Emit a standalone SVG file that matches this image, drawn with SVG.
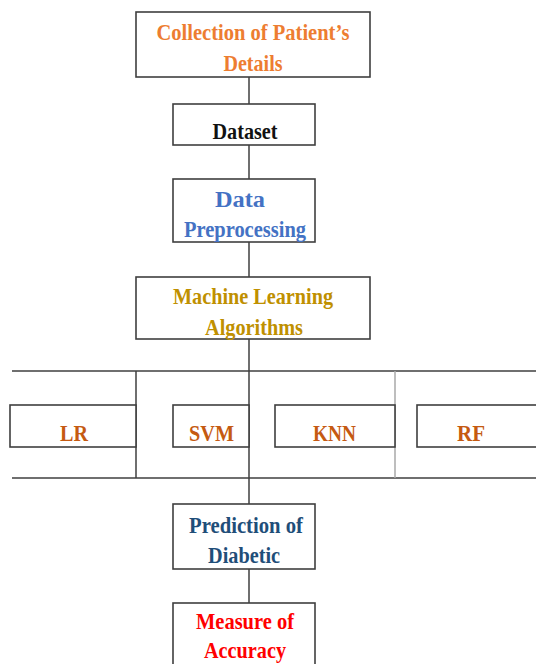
<svg xmlns="http://www.w3.org/2000/svg" width="536" height="664" viewBox="0 0 536 664">
  <style>
    .box { fill: #ffffff; stroke: #3f3f3f; stroke-width: 1.6; }
    .wire { stroke: #3f3f3f; stroke-width: 1.5; fill: none; }
    .wire-light { stroke: #a8a8a8; stroke-width: 1.5; fill: none; }
    text { font-family: "Liberation Serif", "Times New Roman", serif; font-weight: bold; font-size: 24px; text-anchor: middle; }
  </style>
  <rect width="536" height="664" fill="#ffffff"/>

  <!-- connectors -->
  <g id="connectors">
    <line class="wire" x1="249" y1="77" x2="249" y2="104"/>
    <line class="wire" x1="249" y1="145" x2="249" y2="179"/>
    <line class="wire" x1="249" y1="242" x2="249" y2="277"/>
    <line class="wire" x1="249" y1="339" x2="249" y2="504"/>
    <line class="wire" x1="249" y1="569" x2="249" y2="603"/>
    <line class="wire" x1="12" y1="371" x2="536" y2="371"/>
    <line class="wire" x1="12" y1="478" x2="536" y2="478"/>
    <line class="wire" x1="136" y1="371" x2="136" y2="478"/>
    <line class="wire-light" x1="395" y1="371" x2="395" y2="478"/>
  </g>

  <g id="collection">
    <rect class="box" x="136" y="12" width="234" height="65"/>
    <text x="253" y="40" fill="#ED7D31" textLength="193" lengthAdjust="spacingAndGlyphs">Collection of Patient’s</text>
    <text x="253" y="71" fill="#ED7D31" textLength="59" lengthAdjust="spacingAndGlyphs">Details</text>
  </g>

  <g id="dataset">
    <rect class="box" x="173" y="104" width="142" height="41"/>
    <text x="245" y="139" fill="#111111" textLength="65" lengthAdjust="spacingAndGlyphs">Dataset</text>
  </g>

  <g id="preprocessing">
    <rect class="box" x="173" y="179" width="142" height="63"/>
    <text x="240" y="207" fill="#4472C4" textLength="50" lengthAdjust="spacingAndGlyphs">Data</text>
    <text x="245" y="237" fill="#4472C4" textLength="122" lengthAdjust="spacingAndGlyphs">Preprocessing</text>
  </g>

  <g id="ml-algorithms">
    <rect class="box" x="136" y="277" width="234" height="62"/>
    <text x="253" y="304" fill="#BF9000" textLength="160" lengthAdjust="spacingAndGlyphs">Machine Learning</text>
    <text x="254" y="335" fill="#BF9000" textLength="98" lengthAdjust="spacingAndGlyphs">Algorithms</text>
  </g>

  <g id="lr">
    <rect class="box" x="10" y="405" width="126" height="42"/>
    <text x="74" y="441" fill="#C55A11" textLength="28" lengthAdjust="spacingAndGlyphs">LR</text>
  </g>

  <g id="svm">
    <rect class="box" x="173" y="405" width="76" height="42"/>
    <text x="211.5" y="441" fill="#C55A11" textLength="45" lengthAdjust="spacingAndGlyphs">SVM</text>
  </g>

  <g id="knn">
    <rect class="box" x="275" y="405" width="120" height="42"/>
    <text x="334.5" y="441" fill="#C55A11" textLength="43" lengthAdjust="spacingAndGlyphs">KNN</text>
  </g>

  <g id="rf">
    <rect class="box" x="417" y="405" width="130" height="42"/>
    <text x="471" y="441" fill="#C55A11" textLength="28" lengthAdjust="spacingAndGlyphs">RF</text>
  </g>

  <g id="prediction">
    <rect class="box" x="173" y="504" width="142" height="65"/>
    <text x="246" y="533" fill="#1F4E79" textLength="114" lengthAdjust="spacingAndGlyphs">Prediction of</text>
    <text x="244" y="563" fill="#1F4E79" textLength="72" lengthAdjust="spacingAndGlyphs">Diabetic</text>
  </g>

  <g id="accuracy">
    <rect class="box" x="173" y="603" width="142" height="70"/>
    <text x="245" y="629" fill="#FF0000" textLength="98" lengthAdjust="spacingAndGlyphs">Measure of</text>
    <text x="245" y="658" fill="#FF0000" textLength="82" lengthAdjust="spacingAndGlyphs">Accuracy</text>
  </g>
</svg>
